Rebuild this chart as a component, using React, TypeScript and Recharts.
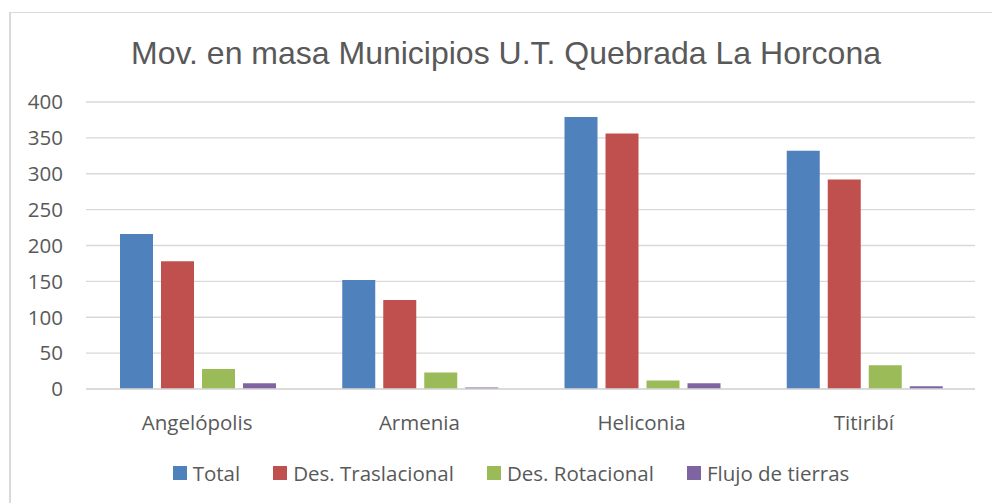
import { BarChart, Bar, XAxis, YAxis, CartesianGrid, Legend } from "recharts";

const MUNICIPIOS = ["Angelópolis", "Armenia", "Heliconia", "Titiribí"];
const TOTAL = [216, 152, 379, 332];
const TRASLACIONAL = [178, 124, 356, 292];
const ROTACIONAL = [28, 23, 12, 33];
const FLUJO = [8, 2, 8, 4];
const Y_TICKS = [0, 50, 100, 150, 200, 250, 300, 350, 400];

const SERIES = [
  { key: "total", name: "Total", color: "#4F81BD" },
  { key: "traslacional", name: "Des. Traslacional", color: "#C0504D" },
  { key: "rotacional", name: "Des. Rotacional", color: "#9BBB59" },
  { key: "flujo", name: "Flujo de tierras", color: "#8064A2" },
];

const data = MUNICIPIOS.map((name, i) => ({
  name,
  total: TOTAL[i],
  traslacional: TRASLACIONAL[i],
  rotacional: ROTACIONAL[i],
  flujo: FLUJO[i],
}));

const FONT = "'Open Sans', 'Noto Sans', sans-serif";
const TEXT_COLOR = "#595959";
const GRID = "#d9d9d9";

// ── Legend ───────────────────────────────────────────────────────────────

function renderLegend() {
  return (
    <div
      style={{
        display: "flex",
        justifyContent: "center",
        gap: 33,
        fontFamily: FONT,
        fontSize: 20.5,
        lineHeight: "28px",
        color: TEXT_COLOR,
        paddingLeft: 30,
      }}
    >
      {SERIES.map((s) => (
        <div key={s.key} style={{ display: "flex", alignItems: "center" }}>
          <span
            style={{
              display: "inline-block",
              width: 14,
              height: 14,
              background: s.color,
              marginRight: 6,
            }}
          />
          <span>{s.name}</span>
        </div>
      ))}
    </div>
  );
}

export default function App() {
  return (
    <div
      style={{
        position: "absolute",
        left: 0,
        top: 0,
        width: 992,
        height: 503,
        background: "#fff",
        overflow: "hidden",
      }}
    >
      <div
        style={{
          position: "absolute",
          left: 9,
          top: 12,
          width: 1000,
          height: 520,
          borderTop: `1px solid ${GRID}`,
          borderLeft: `2px solid ${GRID}`,
        }}
      />
      <div
        style={{
          position: "absolute",
          left: 0,
          top: 33,
          width: 1012,
          textAlign: "center",
          fontFamily: "'Liberation Sans', Arial, sans-serif",
          fontSize: 32,
          color: TEXT_COLOR,
          lineHeight: "40px",
          whiteSpace: "nowrap",
        }}
      >
        Mov. en masa Municipios U.T. Quebrada La Horcona
      </div>
      <div style={{ position: "absolute", left: 0, top: 0 }}>
        <BarChart
          width={992}
          height={503}
          data={data}
          margin={{ top: 102, right: 17, bottom: 84, left: 0 }}
          barCategoryGap={34}
          barGap={8}
        >
          <CartesianGrid vertical={false} stroke={GRID} strokeWidth={1.3} />
          <XAxis
            dataKey="name"
            axisLine={{ stroke: GRID, strokeWidth: 1.3 }}
            tickLine={false}
            tickSize={0}
            tickMargin={26}
            tick={{ fontSize: 20.5, fill: TEXT_COLOR, fontFamily: FONT }}
          />
          <YAxis
            width={86}
            domain={[0, 400]}
            ticks={Y_TICKS}
            axisLine={false}
            tickLine={false}
            tickSize={0}
            tickMargin={23}
            tick={{ fontSize: 20.5, fill: TEXT_COLOR, fontFamily: FONT }}
          />
          <Legend
            layout="horizontal"
            verticalAlign="middle"
            align="center"
            content={renderLegend}
            wrapperStyle={{ top: 459, left: 0, width: 992 }}
          />
          {SERIES.map((s) => (
            <Bar
              key={s.key}
              dataKey={s.key}
              name={s.name}
              fill={s.color}
              isAnimationActive={false}
            />
          ))}
        </BarChart>
      </div>
    </div>
  );
}
